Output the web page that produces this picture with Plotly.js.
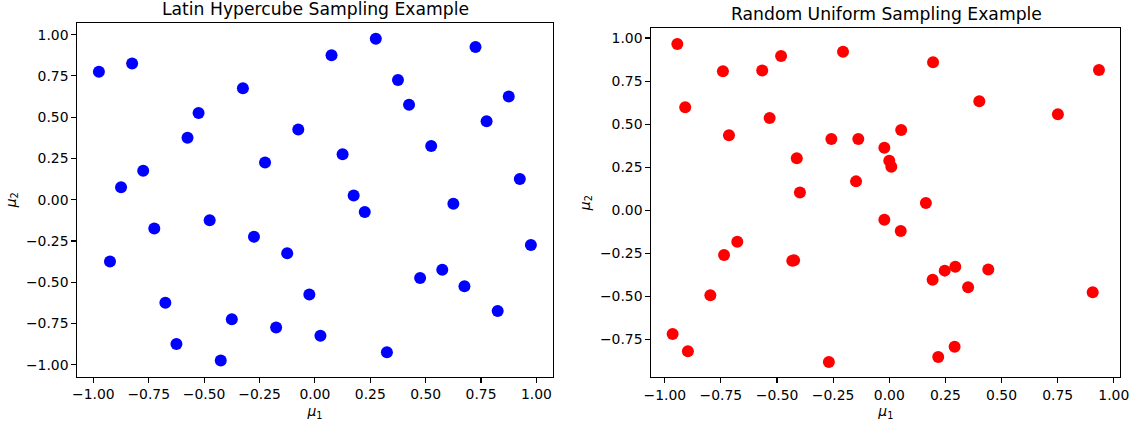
<!DOCTYPE html>
<html>
<head>
<meta charset="utf-8">
<script src="https://cdn.plot.ly/plotly-3.0.1.min.js"></script>
<style>html,body{margin:0;padding:0;background:#fff;}#chart{width:1139px;height:421px;}</style>
</head>
<body>
<div id="chart"></div>
<script>
// Latin Hypercube samples
const lhsX = [-0.975,-0.825,-0.875,-0.775,-0.925,-0.725,-0.675,-0.625,-0.575,-0.525,
              -0.475,-0.425,-0.375,-0.325,-0.275,-0.225,-0.175,-0.125,-0.075,-0.025,
               0.025, 0.075, 0.125, 0.175, 0.225, 0.275, 0.325, 0.375, 0.425, 0.475,
               0.525, 0.575, 0.625, 0.675, 0.725, 0.775, 0.825, 0.875, 0.925, 0.975];
const lhsY = [ 0.775, 0.825, 0.075, 0.175,-0.375,-0.175,-0.625,-0.875, 0.375, 0.525,
              -0.125,-0.975,-0.725, 0.675,-0.225, 0.225,-0.775,-0.325, 0.425,-0.575,
              -0.825, 0.875, 0.275, 0.025,-0.075, 0.975,-0.925, 0.725, 0.575,-0.475,
               0.325,-0.425,-0.025,-0.525, 0.925, 0.475,-0.675, 0.625, 0.125,-0.275];

// Random uniform samples
const rndX = [-0.944,-0.909,-0.741,-0.714,-0.566,-0.533,-0.482,-0.412,-0.398,-0.206,
              -0.258,-0.138,-0.148, 0.195, 0.934, 0.401, 0.751, 0.053,-0.022, 0.000,
               0.009, 0.163,-0.022, 0.051, 0.193, 0.247, 0.294, 0.441, 0.351, 0.906,
               0.291, 0.218,-0.677,-0.736,-0.432,-0.424,-0.797,-0.965,-0.897,-0.269];
const rndY = [ 0.965, 0.598, 0.807, 0.435, 0.812, 0.536, 0.896, 0.302, 0.104, 0.920,
               0.414, 0.414, 0.168, 0.859, 0.814, 0.633, 0.557, 0.466, 0.363, 0.288,
               0.253, 0.042,-0.055,-0.120,-0.403,-0.350,-0.327,-0.343,-0.447,-0.476,
              -0.792,-0.851,-0.182,-0.259,-0.292,-0.290,-0.493,-0.718,-0.818,-0.880];

const ticks = [-1.0,-0.75,-0.5,-0.25,0.0,0.25,0.5,0.75,1.0];
const titles = ['Latin Hypercube Sampling Example','Random Uniform Sampling Example'];

const W = 1139, H = 421;
const FONT = 'DejaVu Sans, sans-serif';

function axisBase(extra){
  return Object.assign({
    showgrid:false, zeroline:false, showline:true, mirror:true,
    linecolor:'#000', linewidth:1,
    ticks:'outside', ticklen:5, tickwidth:1.1, tickcolor:'#000',
    tickvals:ticks, tickformat:'.2f',
    tickfont:{family:FONT,size:13.9,color:'#000'},
    automargin:false
  }, extra);
}

const traces = [
  {x:lhsX, y:lhsY, type:'scatter', mode:'markers', xaxis:'x', yaxis:'y',
   marker:{color:'#0000ff', size:12}, hoverinfo:'x+y'},
  {x:rndX, y:rndY, type:'scatter', mode:'markers', xaxis:'x2', yaxis:'y2',
   marker:{color:'#ff0000', size:12}, hoverinfo:'x+y'}
];

const layout = {
  width:W, height:H, showlegend:false,
  paper_bgcolor:'#fff', plot_bgcolor:'#fff',
  margin:{l:0,r:0,t:0,b:0},
  font:{family:FONT,color:'#000'},
  xaxis: axisBase({domain:[77.3/W,552.5/W], range:[-1.0725,1.0725], anchor:'y',
    title:{text:'<i>μ</i><sub>1</sub>', font:{family:FONT,size:13.9}, standoff:4}}),
  yaxis: axisBase({domain:[1-376.7/H,1-22.7/H], range:[-1.0725,1.0725], anchor:'x',
    title:{text:'<i>μ</i><sub>2</sub>', font:{family:FONT,size:13.9}, standoff:6}}),
  xaxis2: axisBase({domain:[651.3/W,1120.3/W], range:[-1.060,1.029], anchor:'y2',
    title:{text:'<i>μ</i><sub>1</sub>', font:{family:FONT,size:13.9}, standoff:4}}),
  yaxis2: axisBase({domain:[1-377.3/H,1-28/H], range:[-0.969,1.058], anchor:'x2',
    tickvals:[-0.75,-0.5,-0.25,0.0,0.25,0.5,0.75,1.0],
    title:{text:'<i>μ</i><sub>2</sub>', font:{family:FONT,size:13.9}, standoff:6}}),
  annotations:[
    {text:titles[0], xref:'paper', yref:'paper', x:315/W, y:1-9/H, xanchor:'center', yanchor:'middle',
     showarrow:false, font:{family:FONT,size:17.2,color:'#000'}},
    {text:titles[1], xref:'paper', yref:'paper', x:886/W, y:1-14/H, xanchor:'center', yanchor:'middle',
     showarrow:false, font:{family:FONT,size:17.2,color:'#000'}}
  ]
};

Plotly.newPlot('chart', traces, layout, {displayModeBar:false, staticPlot:true});
</script>
</body>
</html>
